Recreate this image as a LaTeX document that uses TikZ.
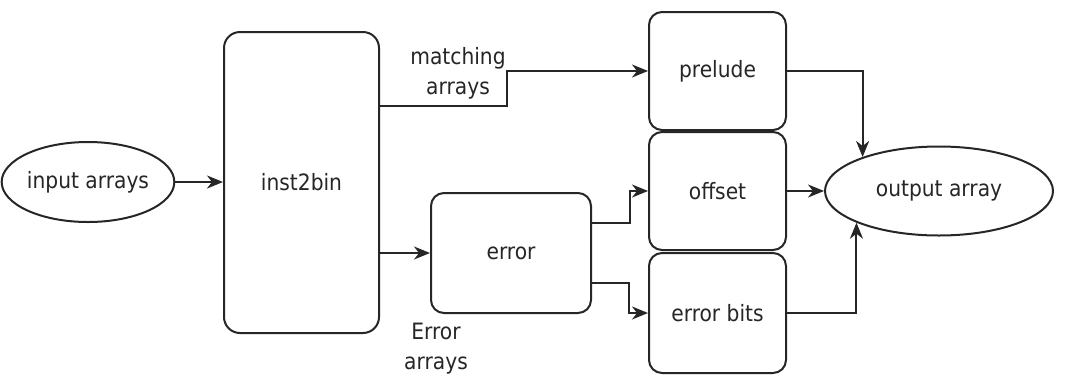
\documentclass[tikz,border=0pt]{standalone}
\usepackage{fontspec}
\setmainfont{DejaVu Sans Condensed}
\usetikzlibrary{shapes.geometric,arrows.meta}
\begin{document}
\begin{tikzpicture}[x=1pt,y=-1pt,
  every node/.style={font=\fontsize{22.5}{30}\selectfont, text=black!85},
  box/.style={draw=black!85, line width=2pt, rounded corners=13pt, inner sep=0pt},
  oval/.style={draw=black!85, ellipse, line width=2pt, inner sep=0pt},
  lab/.style={align=center, inner sep=0pt},
  arr/.style={draw=black!85, line width=2pt, -{Stealth[length=16pt,width=13pt,inset=5pt]}}]
\useasboundingbox (0,0) rectangle (1067,376);
\node[oval, minimum width=155pt, minimum height=80pt] (input) at (88,182) {input arrays};
\node[box, minimum width=155pt, minimum height=301pt, rounded corners=16pt] (inst) at (301.5,182.5) {inst2bin};
\node[box, minimum width=160pt, minimum height=120pt] (err) at (511,253) {error};
\node[box, minimum width=137pt, minimum height=118pt] (prelude) at (717.5,71) {prelude};
\node[box, minimum width=137pt, minimum height=118pt] (offset) at (717.5,191) {offset};
\node[box, minimum width=137pt, minimum height=120pt] (bits) at (717.5,313) {error bits};
\node[oval, minimum width=228pt, minimum height=89pt] (output) at (939,191) {output array};
\node[lab] (mlab) at (458,73) {matching\\arrays};
\node[lab] (elab) at (436,349) {Error\\arrays};
\draw[arr] (input.east) -- (inst.west |- input.east);
\draw[arr] ([yshift=76.5pt]inst.east) -- ++(127,0) |- (prelude.west);
\draw[arr] (inst.east |- err.west) -- (err.west);
\draw[arr] ([yshift=30pt]err.east) -- ++(38,0) |- (offset.west);
\draw[arr] ([yshift=-30pt]err.east) -- ++(37,0) |- (bits.west);
\draw[arr] (offset.east) -- (output.west);
\draw[arr] (prelude.east) -| (output.156);
\draw[arr] (bits.east) -| (output.201);
\end{tikzpicture}
\end{document}
